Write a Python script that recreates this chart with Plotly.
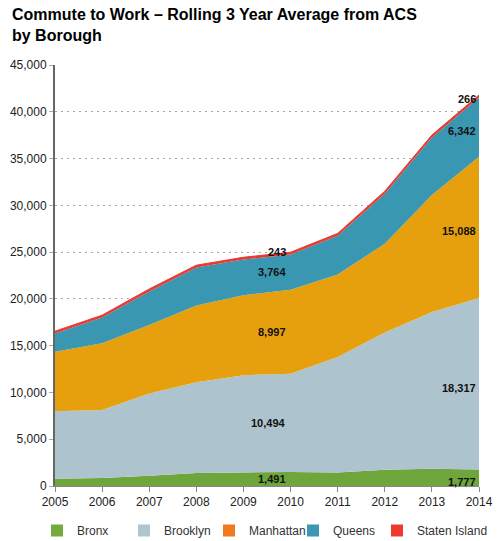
import plotly.graph_objects as go

years = [2005, 2006, 2007, 2008, 2009, 2010, 2011, 2012, 2013, 2014]
bronx = [780, 850, 1100, 1400, 1450, 1491, 1450, 1750, 1850, 1777]
brooklyn = [7220, 7270, 8800, 9700, 10400, 10494, 12350, 14650, 16750, 18317]
manhattan = [6350, 7130, 7300, 8200, 8550, 8997, 8800, 9500, 12500, 15088]
queens = [1950, 2750, 3600, 4050, 3800, 3764, 4150, 5350, 6150, 6342]
staten = [250, 260, 260, 250, 250, 243, 250, 260, 260, 266]

series_names = ["Bronx", "Brooklyn", "Manhattan", "Queens", "Staten Island"]
series_values = [bronx, brooklyn, manhattan, queens, staten]
area_colors = ["#6FA63B", "#ADC3CD", "#E6A00E", "#3A97B2", "#E8392F"]
legend_colors = ["#74AB3E", "#AFC5CF", "#F07A1F", "#3C97B4", "#EE3A2E"]

label_years = [2010, 2014]
tick_vals = [0, 5000, 10000, 15000, 20000, 25000, 30000, 35000, 40000, 45000]

W, H = 499, 541
L, R, T, B = 55, 20, 65, 55
pw, ph = W - L - R, H - T - B
legend_left_px = [37, 124, 209, 293, 377]

fig = go.Figure()

for name, vals, col in zip(series_names, series_values, area_colors):
    fig.add_trace(go.Scatter(
        x=years, y=vals, name=name, stackgroup="one", mode="lines",
        line=dict(width=1 if name == "Staten Island" else 0, color=col),
        fillcolor=col, showlegend=False, hoverinfo="skip"))

for idx, (name, col) in enumerate(zip(series_names, legend_colors)):
    key = "legend" if idx == 0 else f"legend{idx + 1}"
    fig.add_trace(go.Scatter(
        x=[None], y=[None], name=name, mode="markers", legend=key,
        marker=dict(symbol="square", size=12, color=col), showlegend=True))
    fig.update_layout(**{key: dict(
        orientation="h", x=(legend_left_px[idx] - L) / pw, xanchor="left",
        y=-(516 - (T + ph)) / ph, yanchor="top", itemwidth=30,
        font=dict(family="Liberation Sans, Arial", size=12, color="#333"),
        bgcolor="rgba(0,0,0,0)",
    )})

# data labels
for yr in label_years:
    i = years.index(yr)
    base = 0
    for k, vals in enumerate(series_values):
        v = vals[i]
        if k == len(series_values) - 1:
            ypos = base + v
        else:
            ypos = base + v / 2
        base += v
        fig.add_annotation(
            x=yr, y=ypos, text=f"<b>{v:,}</b>", showarrow=False,
            xanchor="right", yanchor="middle",
            xshift=-3 if yr == 2010 else -1,
            yshift=0 if yr == 2010 else -4,
            font=dict(family="Liberation Sans, Arial", size=11, color="#111"),
        )

# title
fig.add_annotation(
    text="<b>Commute to Work – Rolling 3 Year Average from ACS<br>by Borough</b>",
    xref="paper", yref="paper", x=(10 - L) / pw, y=1 + (T - 4) / ph,
    xanchor="left", yanchor="top", align="left", showarrow=False,
    font=dict(family="Liberation Sans, Arial", size=16, color="#000"),
)

fig.update_layout(
    width=W, height=H,
    margin=dict(l=L, r=R, t=T, b=B, autoexpand=False),
    paper_bgcolor="white", plot_bgcolor="white",
    font=dict(family="Liberation Sans, Arial", size=12, color="#333"),
    xaxis=dict(
        range=[2005, 2014], tickmode="array", tickvals=years,
        ticktext=[str(y) for y in years],
        showgrid=False, zeroline=False,
        showline=True, linecolor="#888", linewidth=1,
        ticks="outside", ticklen=5, tickcolor="#888",
        tickfont=dict(size=12, color="#222"),
    ),
    yaxis=dict(
        range=[0, 45000], tickmode="array", tickvals=tick_vals,
        tickformat=",", showgrid=True, gridcolor="#a8a8a8",
        griddash="2px,4px", gridwidth=1, zeroline=False,
        showline=True, linecolor="#666", linewidth=2,
        ticks="outside", ticklen=4, tickcolor="#aaa",
        tickfont=dict(size=12, color="#222"),
    ),
)

fig.write_html(
    "out.html",
    config={"displayModeBar": False},
    post_script="document.body.style.margin='0';document.body.style.overflow='hidden';",
)
